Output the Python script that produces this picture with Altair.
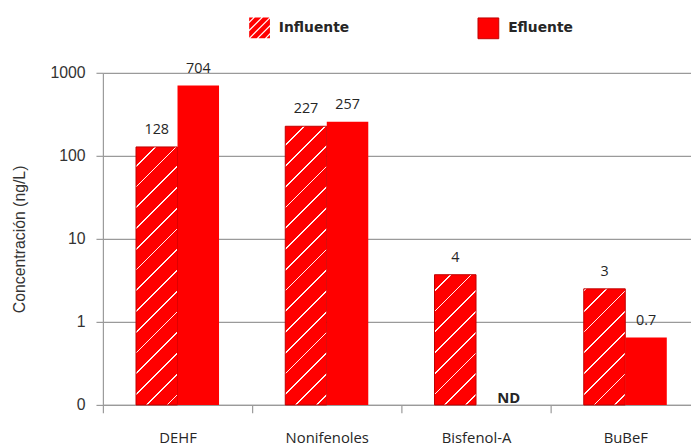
import math
import altair as alt
import pandas as pd

# ---------------- data ----------------
compuestos = ["DEHF", "Nonifenoles", "Bisfenol-A", "BuBeF"]
series = ["Influente", "Efluente"]
influente = [128, 227, 3.7, 2.5]
efluente = [704, 257, None, 0.65]
etiq_influente = ["128", "227", "4", "3"]
etiq_efluente = ["704", "257", "ND", "0.7"]
y_ticks = [0.1, 1, 10, 100, 1000]

rows = []
for i, c in enumerate(compuestos):
    rows.append({"Compuesto": c, "Tipo": series[0], "Valor": influente[i], "Etiqueta": etiq_influente[i]})
    rows.append({"Compuesto": c, "Tipo": series[1], "Valor": efluente[i], "Etiqueta": etiq_efluente[i]})
df = pd.DataFrame(rows)

# ---------------- style ----------------
W, H = 595, 336
STEP, BAR = 151, 42
RED = "#ff0000"
EDGE = "#c00000"
WHITE = "#fff4f4"
GRID = "#9a9a9a"
TXT = "#262626"
LOG_MIN, LOG_MAX = math.log10(y_ticks[0]), math.log10(y_ticks[-1])


def bar_height(v):
    return H * (math.log10(v) - LOG_MIN) / (LOG_MAX - LOG_MIN)


def hatch_gradient(h, w=BAR, period=21.0, gap=1.7):
    # stripes "/" : iso-lines X+Y = const inside the bar's bounding box
    L = w + h
    c = L / (w * w + h * h)
    stops = [{"offset": 0, "color": RED}]
    s = (h + period / 2) % period
    while s < L:
        a = max(0.0, (s - gap / 2) / L)
        b = min(1.0, (s + gap / 2) / L)
        stops += [
            {"offset": round(a, 5), "color": RED},
            {"offset": round(a, 5), "color": WHITE},
            {"offset": round(b, 5), "color": WHITE},
            {"offset": round(b, 5), "color": RED},
        ]
        s += period
    stops.append({"offset": 1, "color": RED})
    return {"gradient": "linear", "x1": 0, "y1": 0,
            "x2": round(c * w, 5), "y2": round(c * h, 5), "stops": stops}


def clip(poly, a, sign):
    out = []
    n = len(poly)
    for i in range(n):
        p, q = poly[i], poly[(i + 1) % n]
        fp = sign * (p[0] + p[1] - a)
        fq = sign * (q[0] + q[1] - a)
        if fp >= 0:
            out.append(p)
        if fp * fq < 0:
            t = fp / (fp - fq)
            out.append((p[0] + t * (q[0] - p[0]), p[1] + t * (q[1] - p[1])))
    return out


def hatch_symbol(period=0.78, gap=0.16):
    square = [(-1, -1), (1, -1), (1, 1), (-1, 1)]
    centers = []
    s = -2 + period * 0.6
    while s < 2:
        centers.append(s)
        s += period
    edges = [-2.5] + [x for cc in centers for x in (cc - gap / 2, cc + gap / 2)] + [2.5]
    parts = []
    for k in range(0, len(edges), 2):
        lo, hi = edges[k], edges[k + 1]
        poly = clip(clip(square, lo, 1), hi, -1)
        if len(poly) >= 3:
            parts.append("M" + "L".join(f"{x:.3f},{y:.3f}" for x, y in poly) + "Z")
    return "".join(parts)


hatch_conditions = [
    {"test": f"datum.Compuesto === '{c}'", "value": hatch_gradient(bar_height(v))}
    for c, v in zip(compuestos, influente)
]

# ---------------- encodings ----------------
x_enc = alt.X(
    "Compuesto:N",
    sort=compuestos,
    scale=alt.Scale(domain=compuestos, range=[0, STEP * len(compuestos)], paddingInner=0, paddingOuter=0),
    axis=alt.Axis(title=None, labelAngle=0, tickBand="extent", domainColor=GRID, domainWidth=1.2,
                  tickColor=GRID, tickWidth=1.2, tickSize=8, labelPadding=18,
                  labelFont="Open Sans", labelFontSize=15, labelColor=TXT),
)
xoff_enc = alt.XOffset(
    "Tipo:N",
    sort=series,
    scale=alt.Scale(domain=series, paddingInner=0, paddingOuter=(STEP / BAR - 2) / 2),
)
y_enc = alt.Y(
    "Valor:Q",
    scale=alt.Scale(type="log", domain=[y_ticks[0], y_ticks[-1]], nice=False),
    axis=alt.Axis(values=y_ticks, labelExpr="datum.value < 0.5 ? '0' : format(datum.value, 'd')",
                  grid=True, gridColor=GRID, gridWidth=1.2, domainColor=GRID, domainWidth=1.2,
                  tickColor=GRID, tickWidth=1.2, tickSize=7, labelPadding=11,
                  labelFont="Liberation Sans", labelFontSize=16, labelColor="#333333",
                  title="Concentración (ng/L)", titleFont="Liberation Sans", titleFontSize=16,
                  titleFontWeight="normal", titleColor="#333333", titleX=-84, titleY=H / 2,
                  titleAngle=270, titleAlign="center", titleBaseline="middle"),
)
y2_enc = alt.Y2(datum=y_ticks[0])

base = alt.Chart(df)

legend_common = dict(title=None, orient="none", legendY=-56, direction="horizontal",
                     symbolSize=441, labelFont="DejaVu Sans", labelFontWeight="bold",
                     labelFontSize=14, labelColor=TXT, labelOffset=9, padding=0)

bars_inf = base.transform_filter("datum.Tipo === 'Influente'").mark_bar(
    stroke=EDGE, strokeWidth=1
).encode(
    x=x_enc, xOffset=xoff_enc, y=y_enc, y2=y2_enc,
    fill=alt.Fill(
        "Tipo:N",
        scale=alt.Scale(domain=[series[0]], range=[RED]),
        legend=alt.Legend(legendX=148, symbolType=hatch_symbol(), symbolStrokeWidth=0, **legend_common),
        condition=hatch_conditions,
    ),
)

bars_ef = base.transform_filter("datum.Tipo === 'Efluente' && isValid(datum.Valor)").mark_bar().encode(
    x=x_enc, xOffset=xoff_enc, y=y_enc, y2=y2_enc,
    fill=alt.Fill(
        "Tipo:N",
        scale=alt.Scale(domain=[series[1]], range=[RED]),
        legend=alt.Legend(legendX=379, symbolType="square", symbolStrokeColor=EDGE,
                          symbolStrokeWidth=1, symbolFillColor=RED, **legend_common),
    ),
)

labels = base.transform_filter("isValid(datum.Valor)").mark_text(
    baseline="alphabetic", dy=-13, font="Open Sans", fontSize=14.5, color=TXT
).encode(x=x_enc, xOffset=xoff_enc, y=y_enc, text="Etiqueta:N")

nd = base.transform_filter("!isValid(datum.Valor)").transform_calculate(
    Valor=str(y_ticks[0])
).mark_text(
    baseline="alphabetic", dy=-2, dx=12, font="Open Sans", fontSize=15, fontWeight="bold", color=TXT
).encode(x=x_enc, xOffset=xoff_enc, y=y_enc, text="Etiqueta:N")

chart = (
    alt.layer(bars_inf, bars_ef, labels, nd)
    .resolve_scale(fill="independent")
    .properties(
        width=W, height=H,
        autosize=alt.AutoSizeParams(type="none"),
        padding={"left": 96, "top": 63, "right": 0, "bottom": 40},
        background="white",
    )
    .configure_view(stroke=None)
)

chart.save("out.html", embed_options={"renderer": "svg", "actions": False})
